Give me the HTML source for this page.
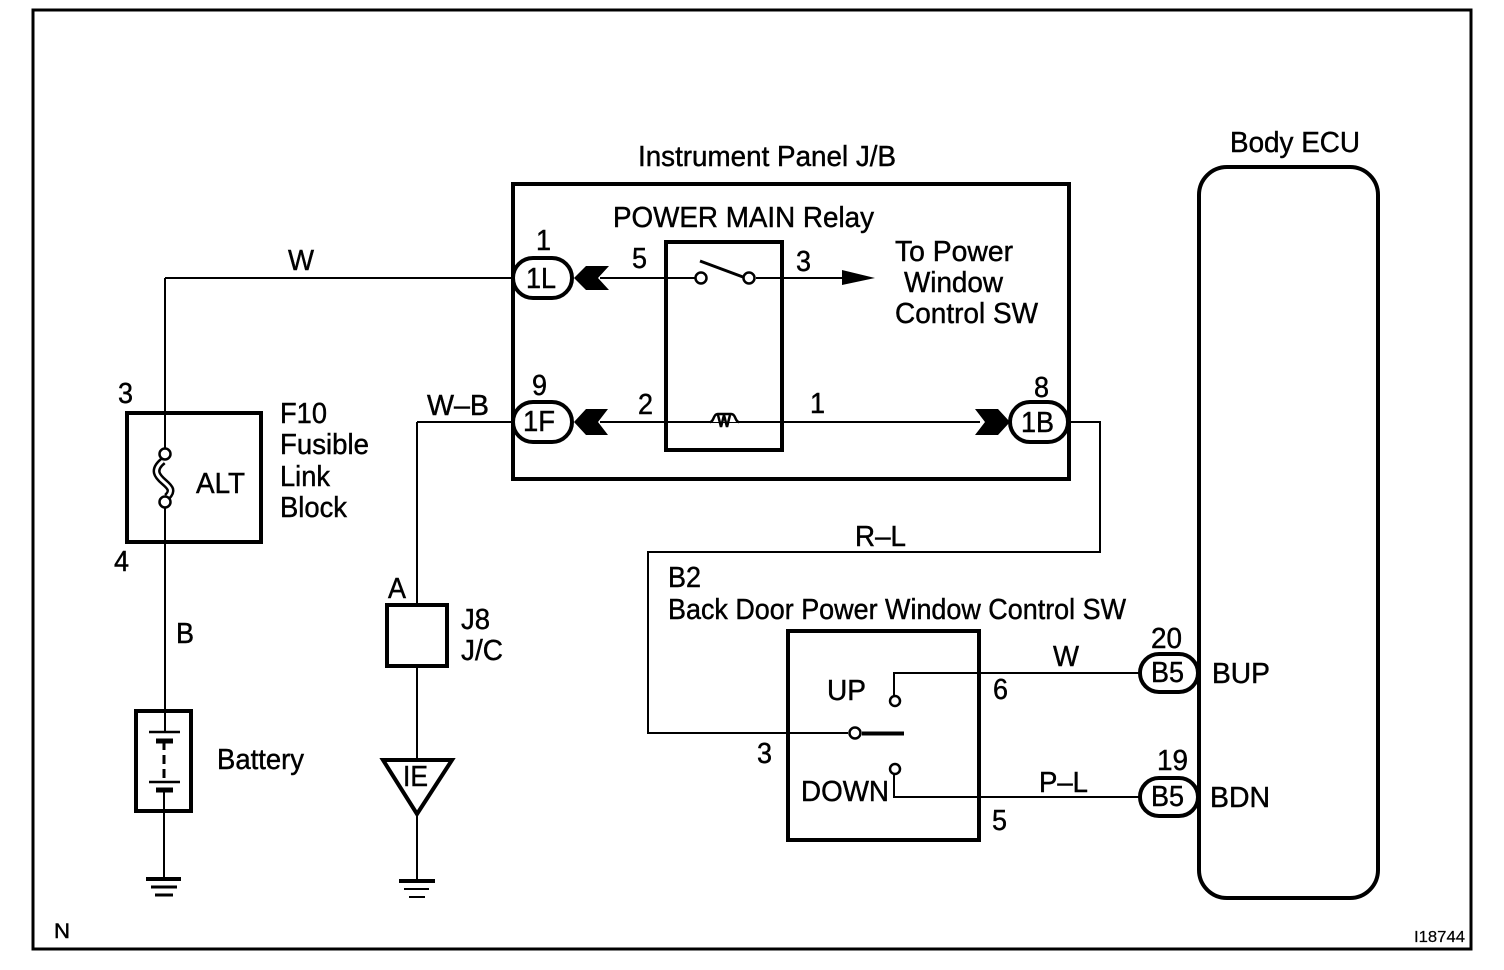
<!DOCTYPE html>
<html><head><meta charset="utf-8"><style>
html,body{margin:0;padding:0;background:#fff}
svg{display:block}
text{font-family:"Liberation Sans",sans-serif;font-size:28.500px;fill:#000;stroke:#000;stroke-width:.45px}
.c{fill:#fff;stroke:#000;stroke-width:2.5}
.w{fill:none;stroke:#000;stroke-width:2}
.b{fill:#fff;stroke:#000;stroke-width:4}
.n{fill:none;stroke:#000;stroke-width:4}
</style></head><body>
<svg width="1504" height="970" viewBox="0 0 1504 970" xmlns="http://www.w3.org/2000/svg">
<rect x="33" y="10" width="1438" height="939" fill="#fff" stroke="#000" stroke-width="3"/>
<!-- JB box -->
<rect x="513" y="184" width="556" height="295" class="n"/>
<!-- wires -->
<path class="w" d="M165 278H514M165 278V454M165 502V732M417 422H514M417 422V605M417 666V760M417 815V880M164 790V880"/>
<path class="w" d="M600 278H700M756 278H845M600 422H980M1068 422H1100V552H648V733H848M862 733H885"/>
<path class="w" d="M894 696V673H1142M894 774V797H1142"/>
<path d="M862 733.500H904" stroke="#000" stroke-width="4" fill="none"/>
<!-- relay -->
<rect x="666" y="242" width="116" height="208" fill="none" stroke="#000" stroke-width="4"/>
<path d="M700 261L743 277" stroke="#000" stroke-width="3"/>
<circle cx="701" cy="278" r="5.500" class="c"/><circle cx="749" cy="278" r="5.500" class="c"/>
<path d="M710 422c4 0 3-8 8-8h13c5 0 4 8 8 8" fill="#fff" stroke="#000" stroke-width="2.500"/>
<path d="M718 415l3 12l3-12l3 12l3-12" fill="none" stroke="#000" stroke-width="2.500"/>
<path d="M842 270L875 278L842 285Z" fill="#000"/>
<!-- arrows -->
<path d="M574 278L586 266H609L598 278L609 290H586Z" fill="#000"/>
<path d="M574 422L586 409H608L598 422L608 435H586Z" fill="#000"/>
<path d="M1010 422L998 409H975L985 422L975 435H998Z" fill="#000"/>
<!-- pills -->
<rect x="513" y="258" width="59" height="40" rx="20" class="b"/>
<rect x="513" y="402" width="59" height="40" rx="20" class="b"/>
<rect x="1010" y="402" width="58" height="40" rx="20" class="b"/>
<rect x="1140" y="654" width="58" height="38" rx="19" class="b"/>
<rect x="1140" y="778" width="58" height="38" rx="19" class="b"/>
<!-- fuse -->
<rect x="127" y="413" width="134" height="129" fill="none" stroke="#000" stroke-width="4"/>
<path d="M163 461C152 470 157 476 164 482C171 488 173 491 167 497" fill="none" stroke="#000" stroke-width="8"/>
<path d="M163 461C152 470 157 476 164 482C171 488 173 491 167 497" fill="none" stroke="#fff" stroke-width="3"/>
<circle cx="165" cy="454" r="5.500" class="c"/><circle cx="165" cy="502" r="5.500" class="c"/>
<!-- battery -->
<rect x="136" y="711" width="55" height="100" fill="none" stroke="#000" stroke-width="4"/>
<path d="M149 732H180M149 782H180" stroke="#000" stroke-width="2.500"/>
<path d="M156 741H173M156 790H173" stroke="#000" stroke-width="5"/>
<path d="M164 741V782" stroke="#000" stroke-width="3" stroke-dasharray="9 5"/>
<!-- grounds -->
<path d="M146 879H181" stroke="#000" stroke-width="4"/><path d="M151 887H177M155 895H173" stroke="#000" stroke-width="3"/>
<path d="M399 881H435" stroke="#000" stroke-width="4"/><path d="M404 889H429" stroke="#000" stroke-width="2"/><path d="M409 897H425" stroke="#000" stroke-width="2"/>
<!-- J/C -->
<rect x="387" y="605" width="60" height="61" fill="none" stroke="#000" stroke-width="4"/>
<path d="M383 760H452L417 814Z" fill="#fff" stroke="#000" stroke-width="4"/>
<!-- switch -->
<rect x="788" y="631" width="191" height="209" fill="none" stroke="#000" stroke-width="4"/>
<circle cx="895" cy="701" r="5" class="c"/><circle cx="895" cy="769" r="5" class="c"/><circle cx="855" cy="733" r="5.500" class="c"/>
<!-- ECU -->
<rect x="1199" y="167" width="179" height="731" rx="28" fill="none" stroke="#000" stroke-width="4"/>
<!-- text -->
<g lengthAdjust="spacingAndGlyphs">
<text x="638" y="166" textLength="258" lengthAdjust="spacingAndGlyphs">Instrument Panel J/B</text>
<text x="613" y="227" textLength="261" lengthAdjust="spacingAndGlyphs">POWER MAIN Relay</text>
<text x="1230" y="152" textLength="130" lengthAdjust="spacingAndGlyphs">Body ECU</text>
<text x="895" y="261" textLength="118" lengthAdjust="spacingAndGlyphs">To Power</text>
<text x="904" y="292" textLength="99" lengthAdjust="spacingAndGlyphs">Window</text>
<text x="895" y="323" textLength="143" lengthAdjust="spacingAndGlyphs">Control SW</text>
<text x="288" y="270" textLength="26" lengthAdjust="spacingAndGlyphs">W</text>
<text x="536" y="250" textLength="15" lengthAdjust="spacingAndGlyphs">1</text>
<text x="532" y="395" textLength="15" lengthAdjust="spacingAndGlyphs">9</text>
<text x="632" y="268" textLength="15" lengthAdjust="spacingAndGlyphs">5</text>
<text x="796" y="271" textLength="15" lengthAdjust="spacingAndGlyphs">3</text>
<text x="638" y="414" textLength="15" lengthAdjust="spacingAndGlyphs">2</text>
<text x="810" y="413" textLength="15" lengthAdjust="spacingAndGlyphs">1</text>
<text x="1034" y="397" textLength="15" lengthAdjust="spacingAndGlyphs">8</text>
<text x="526" y="288" textLength="30" lengthAdjust="spacingAndGlyphs">1L</text>
<text x="523" y="431" textLength="32" lengthAdjust="spacingAndGlyphs">1F</text>
<text x="1021" y="432" textLength="33" lengthAdjust="spacingAndGlyphs">1B</text>
<text x="427" y="415" textLength="62" lengthAdjust="spacingAndGlyphs">W–B</text>
<text x="118" y="403" textLength="15" lengthAdjust="spacingAndGlyphs">3</text>
<text x="114" y="571" textLength="15" lengthAdjust="spacingAndGlyphs">4</text>
<text x="280" y="423" textLength="47" lengthAdjust="spacingAndGlyphs">F10</text>
<text x="280" y="454" textLength="89" lengthAdjust="spacingAndGlyphs">Fusible</text>
<text x="280" y="486" textLength="50" lengthAdjust="spacingAndGlyphs">Link</text>
<text x="280" y="517" textLength="67" lengthAdjust="spacingAndGlyphs">Block</text>
<text x="196" y="493" textLength="49" lengthAdjust="spacingAndGlyphs">ALT</text>
<text x="176" y="643" textLength="18" lengthAdjust="spacingAndGlyphs">B</text>
<text x="217" y="769" textLength="87" lengthAdjust="spacingAndGlyphs">Battery</text>
<text x="388" y="598" textLength="18" lengthAdjust="spacingAndGlyphs">A</text>
<text x="461" y="629" textLength="29" lengthAdjust="spacingAndGlyphs">J8</text>
<text x="461" y="660" textLength="42" lengthAdjust="spacingAndGlyphs">J/C</text>
<text x="403" y="786" textLength="25" lengthAdjust="spacingAndGlyphs">IE</text>
<text x="855" y="546" textLength="51" lengthAdjust="spacingAndGlyphs">R–L</text>
<text x="668" y="587" textLength="33" lengthAdjust="spacingAndGlyphs">B2</text>
<text x="668" y="619" textLength="458" lengthAdjust="spacingAndGlyphs">Back Door Power Window Control SW</text>
<text x="827" y="700" textLength="39" lengthAdjust="spacingAndGlyphs">UP</text>
<text x="801" y="801" textLength="88" lengthAdjust="spacingAndGlyphs">DOWN</text>
<text x="757" y="763" textLength="15" lengthAdjust="spacingAndGlyphs">3</text>
<text x="993" y="699" textLength="15" lengthAdjust="spacingAndGlyphs">6</text>
<text x="992" y="830" textLength="15" lengthAdjust="spacingAndGlyphs">5</text>
<text x="1053" y="666" textLength="26" lengthAdjust="spacingAndGlyphs">W</text>
<text x="1039" y="792" textLength="49" lengthAdjust="spacingAndGlyphs">P–L</text>
<text x="1151" y="648" textLength="31" lengthAdjust="spacingAndGlyphs">20</text>
<text x="1157" y="770" textLength="31" lengthAdjust="spacingAndGlyphs">19</text>
<text x="1151" y="682" textLength="33" lengthAdjust="spacingAndGlyphs">B5</text>
<text x="1151" y="806" textLength="33" lengthAdjust="spacingAndGlyphs">B5</text>
<text x="1212" y="683" textLength="58" lengthAdjust="spacingAndGlyphs">BUP</text>
<text x="1210" y="807" textLength="60" lengthAdjust="spacingAndGlyphs">BDN</text>
<text x="54" y="938" style="font-size:21px" textLength="16" lengthAdjust="spacingAndGlyphs">N</text>
<text x="1414" y="942" style="font-size:16px;stroke-width:.2px" textLength="51" lengthAdjust="spacingAndGlyphs">I18744</text>
</g>
</svg>
</body></html>
